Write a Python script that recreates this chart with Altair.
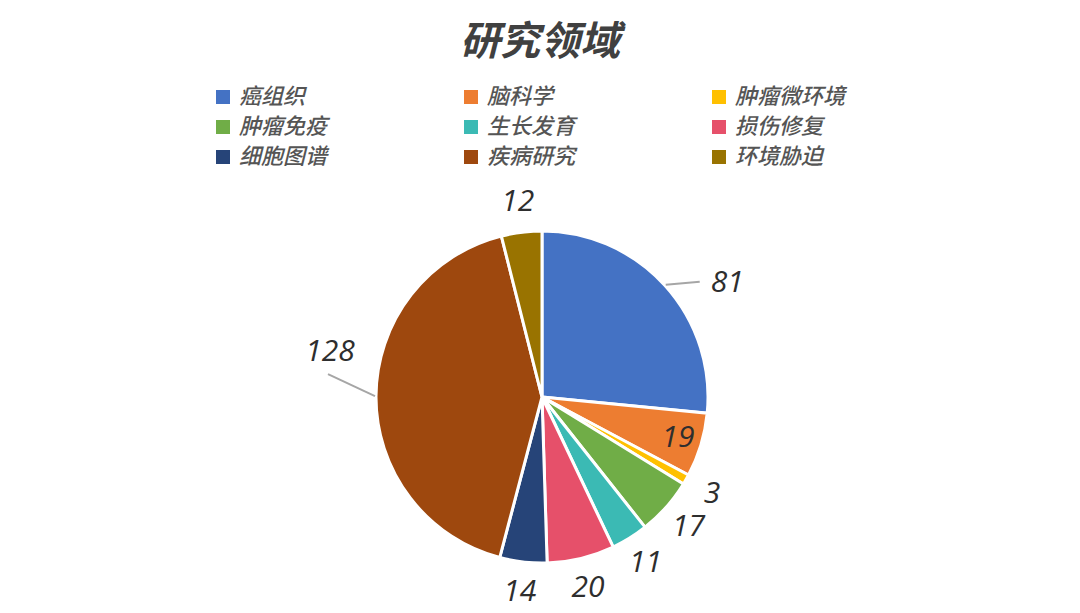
import altair as alt
import pandas as pd

categories = ["癌组织", "脑科学", "肿瘤微环境", "肿瘤免疫", "生长发育", "损伤修复", "细胞图谱", "疾病研究", "环境胁迫"]
values = [81, 19, 3, 17, 11, 20, 14, 128, 12]
colors = ["#4472C4", "#ED7D31", "#FFC000", "#70AD47", "#3BBAB4", "#E6506A", "#264478", "#9E480E", "#997300"]

df = pd.DataFrame({"cat": categories, "value": values, "idx": list(range(len(categories)))})

CX, CY, R = 534, 389, 166
FONT_CJK = "Noto Sans CJK SC"
FONT_NUM = "Open Sans"

base = alt.Chart(df).encode(
    theta=alt.Theta("value:Q", stack=True),
    order=alt.Order("idx:Q"),
    x=alt.value(CX),
    y=alt.value(CY),
)

pie = base.mark_arc(outerRadius=R, stroke="white", strokeWidth=3).encode(
    color=alt.Color(
        "cat:N",
        scale=alt.Scale(domain=categories, range=colors),
        sort=categories,
        legend=alt.Legend(
            title=None, orient="none", legendX=204, legendY=78, columns=3,
            direction="horizontal",
            columnPadding=132, rowPadding=8, symbolType="square", symbolSize=196,
            symbolStrokeWidth=0, labelFont=FONT_CJK, labelFontSize=22,
            labelFontWeight=500,
            labelColor="#555555", labelFontStyle="italic", labelOffset=5,
        ),
    )
)


def label_layer(test, radius, dx=0, dy=0):
    return base.mark_text(
        radius=radius, dx=dx, dy=dy, font=FONT_NUM, fontSize=30,
        fontStyle="italic", color="#2E2E2E",
    ).encode(text=alt.condition(test, alt.Text("value:Q"), alt.value("")))


inside = label_layer("datum.cat == '脑科学'", 142)
outside = label_layer(
    "indexof(['肿瘤微环境','肿瘤免疫','生长发育','损伤修复','细胞图谱','环境胁迫'], datum.cat) >= 0", 196
)
lab81 = label_layer("datum.cat == '癌组织'", 196, dx=40, dy=18)
lab128 = label_layer("datum.cat == '疾病研究'", 196, dx=-16, dy=-44)

rules = (
    alt.Chart(df)
    .transform_window(cum="sum(value)", sort=[alt.SortField("idx")], frame=[None, 0])
    .transform_joinaggregate(total="sum(value)")
    .transform_calculate(mid="(datum.cum - datum.value/2)/datum.total*2*PI")
    .transform_filter("datum.cat == '癌组织' || datum.cat == '疾病研究'")
    .transform_calculate(
        sx=f"{CX} + {R + 1}*sin(datum.mid)",
        sy=f"{CY} - {R + 1}*cos(datum.mid)",
    )
    .transform_calculate(
        ex="datum.sx + (datum.cat == '癌组织' ? 34 : -47)",
        ey="datum.sy + (datum.cat == '癌组织' ? -3 : -22)",
    )
    .mark_rule(color="#A6A6A6", strokeWidth=2)
    .encode(
        x=alt.X("sx:Q", scale=None),
        y=alt.Y("sy:Q", scale=None),
        x2="ex:Q",
        y2="ey:Q",
    )
)

chart = (
    alt.layer(pie, rules, inside, outside, lab81, lab128)
    .properties(
        width=1064,
        height=605,
        padding=0,
        autosize=alt.AutoSizeParams(type="none"),
        title=alt.TitleParams(
            "研究领域", font=FONT_CJK, fontSize=40, fontWeight="bold",
            fontStyle="italic", color="#404040", anchor="middle",
            orient="top", offset=0, dy=55,
        ),
        background="white",
    )
    .configure_view(stroke=None)
)

chart.save("out.html", embed_options={"renderer": "svg", "actions": False})
